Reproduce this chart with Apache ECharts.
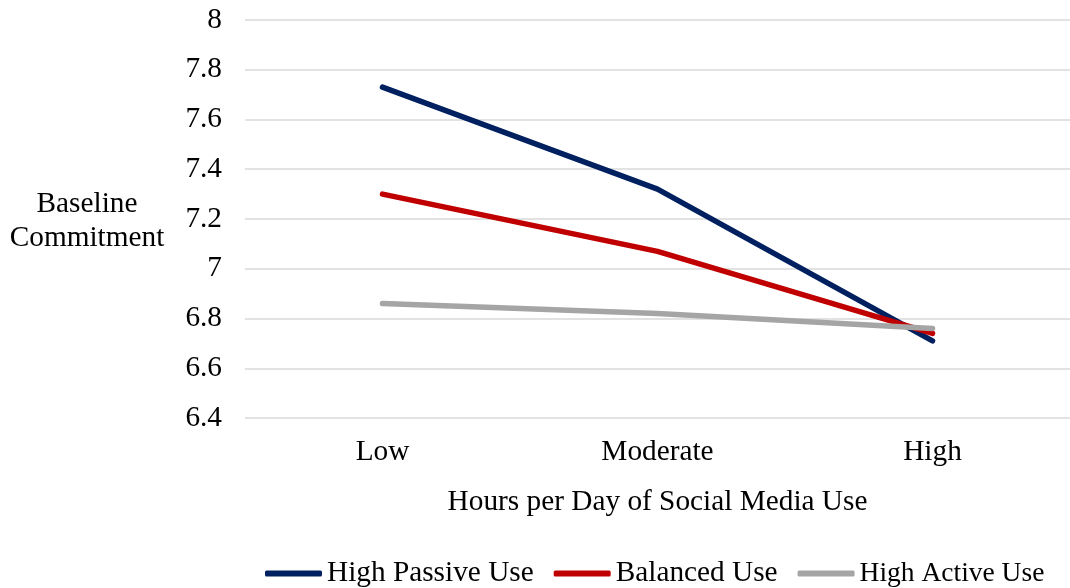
<!DOCTYPE html>
<html>
<head>
<meta charset="utf-8">
<script src="https://cdn.jsdelivr.net/npm/echarts@6/dist/echarts.min.js"></script>
<style>
html,body{margin:0;padding:0;background:#fff;}
#c{width:1070px;height:588px;}
</style>
</head>
<body>
<div id="c"></div>
<script>
var categories = ['Low', 'Moderate', 'High'];
var highPassive = [7.73, 7.32, 6.71];
var balanced = [7.30, 7.07, 6.74];
var highActive = [6.86, 6.82, 6.76];
var seriesNames = ['High Passive Use', 'Balanced Use', 'High Active Use'];
var yMin = 6.4, yMax = 8, yStep = 0.2;

var FONT = '"Liberation Serif", "Times New Roman", serif';
var FS = 29.3;
var chart = echarts.init(document.getElementById('c'));
function mk(name, data, color) {
  return {
    name: name, type: 'line', data: data, symbol: 'none', showSymbol: false,
    lineStyle: { width: 5.5, color: color, cap: 'round', join: 'round' },
    itemStyle: { color: color },
    emphasis: { disabled: true },
    animation: false
  };
}
chart.setOption({
  animation: false,
  grid: { left: 245, top: 20, width: 831, height: 398 },
  xAxis: {
    type: 'category', data: categories, boundaryGap: true,
    axisLine: { show: false }, axisTick: { show: false },
    axisLabel: { color: '#000', fontFamily: FONT, fontSize: FS, margin: 20 },
    name: 'Hours per Day of Social Media Use', nameLocation: 'middle', nameGap: 70,
    nameTextStyle: { color: '#000', fontFamily: FONT, fontSize: FS }
  },
  yAxis: {
    type: 'value', min: yMin, max: yMax, interval: yStep,
    axisLine: { show: false }, axisTick: { show: false },
    splitLine: { lineStyle: { color: '#D9D9D9', width: 1.5 } },
    axisLabel: { color: '#000', fontFamily: FONT, fontSize: FS, margin: 23,
      formatter: function (v) { return String(Math.round(v * 10) / 10); } }
  },
  legend: {
    data: [
      { name: seriesNames[0] },
      { name: seriesNames[1] },
      { name: seriesNames[2], textStyle: { color: '#000', fontFamily: FONT, fontSize: 27.5 } }
    ],
    left: 265, top: 559, width: 800, itemGap: 20, itemWidth: 57, itemHeight: 6,
    icon: 'roundRect', padding: 0,
    textStyle: { color: '#000', fontFamily: FONT, fontSize: FS }
  },
  graphic: [{
    type: 'text', left: 5, top: 187,
    style: { text: 'Baseline\nCommitment', font: FS + 'px ' + FONT, fill: '#000', textAlign: 'center', lineHeight: 34, width: 164 }
  }],
  series: [
    mk(seriesNames[0], highPassive, '#002060'),
    mk(seriesNames[1], balanced, '#C00000'),
    mk(seriesNames[2], highActive, '#A5A5A5')
  ]
});
</script>
</body>
</html>
